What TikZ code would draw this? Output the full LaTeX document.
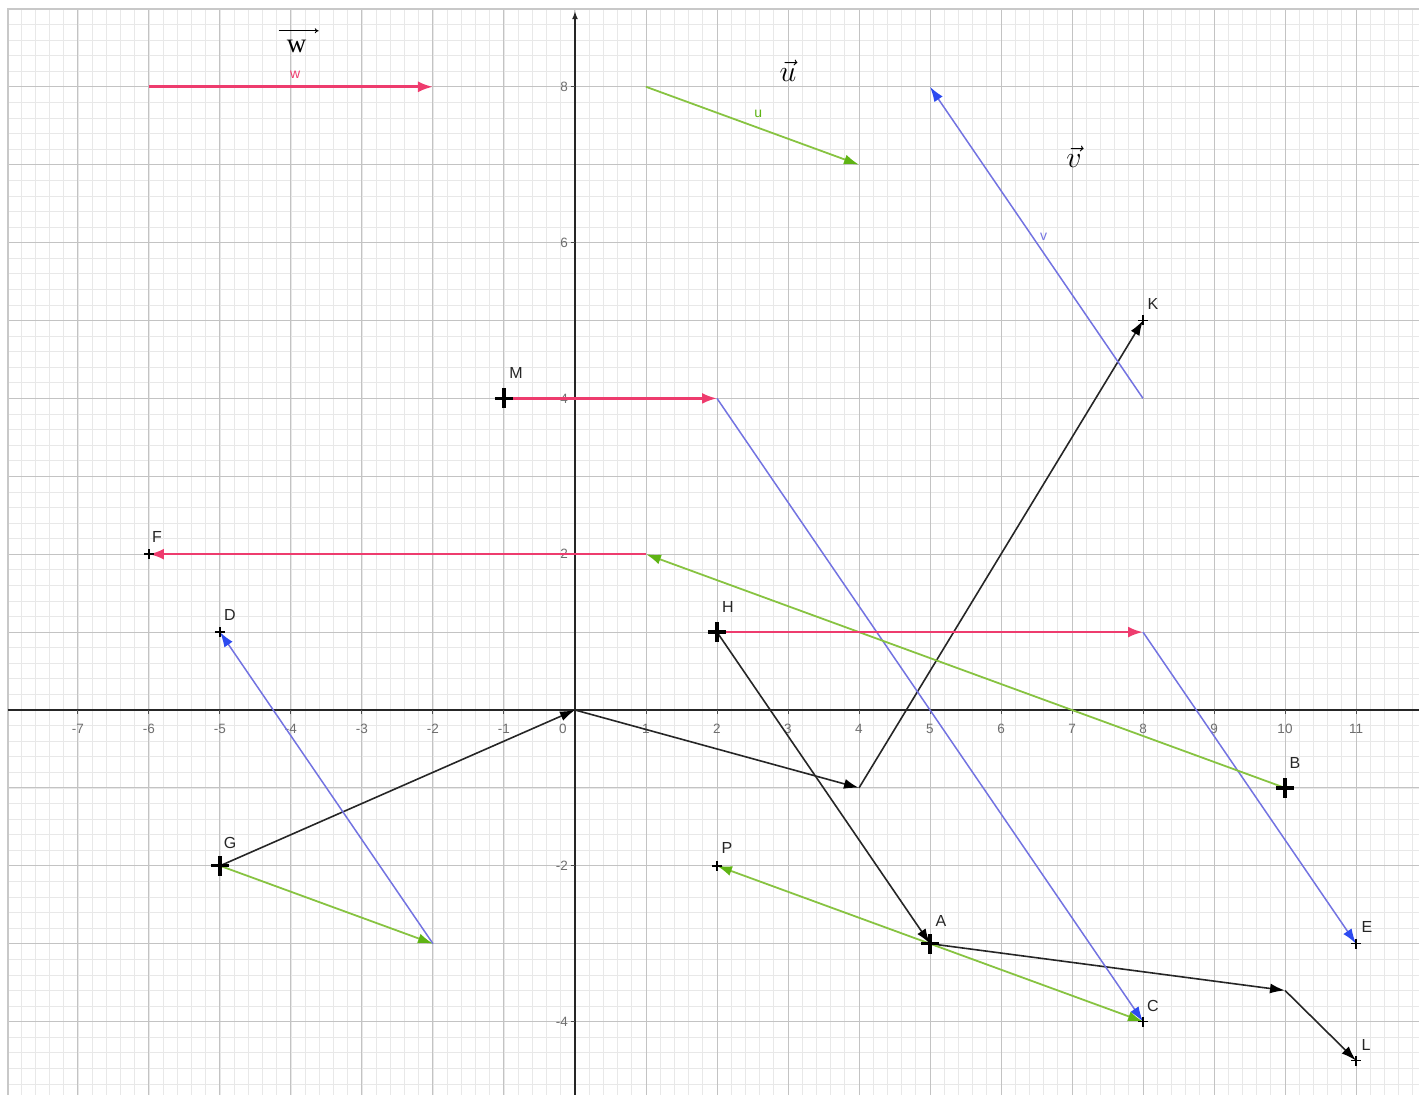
\RequirePackage{fix-cm}
\documentclass[tikz,border=0pt]{standalone}
\usepackage{fontspec}
\newfontfamily\ggb{Liberation Sans}
\newfontfamily\tnr{Liberation Serif}
\usetikzlibrary{arrows.meta}
\definecolor{pinkv}{RGB}{238,60,110}
\definecolor{greenv}{RGB}{135,195,65}
\definecolor{greentip}{RGB}{95,180,20}
\definecolor{bluev}{RGB}{115,115,225}
\definecolor{bluetip}{RGB}{45,75,240}
\definecolor{majorgrid}{RGB}{195,195,195}
\definecolor{minorgrid}{RGB}{232,232,232}
\definecolor{ticklab}{RGB}{110,110,110}
\definecolor{framegray}{RGB}{200,200,200}
\begin{document}
\begin{tikzpicture}[x=71pt,y=77.9pt,
 vw/.style={draw=pinkv, line width=2.6pt, -{Latex[length=15pt,width=11pt,color=pinkv]}},
 vu/.style={draw=greenv, line width=1.8pt, -{Latex[length=15pt,width=10pt,color=greentip]}},
 vv/.style={draw=bluev, line width=1.5pt, -{Latex[length=15pt,width=10pt,color=bluetip]}},
 vk/.style={draw=black!85, line width=1.6pt, -{Latex[length=15pt,width=10pt,color=black]}},
 ticklab/.style={font=\ggb\fontsize{13.5}{15}\selectfont, text=ticklab, inner sep=0pt},
 ptlab/.style={font=\ggb\fontsize{16}{18}\selectfont, text=black!85, inner sep=0pt},
 veclab/.style={font=\ggb\fontsize{14}{16}\selectfont, inner sep=0pt},
 biglab/.style={inner sep=0pt, text=black},
 minorline/.style={draw=minorgrid, line width=0.7pt},
 majorline/.style={draw=majorgrid, line width=1pt},
 pics/bigcross/.style={code={\draw[black, line width=3.2pt] (-9pt,0)--(9pt,0) (0,-10pt)--(0,10pt);}},
 pics/smallcross/.style={code={\draw[black, line width=1.5pt] (-5pt,0)--(5pt,0) (0,-5pt)--(0,5pt);}}
]
\useasboundingbox (-575pt,-385pt) rectangle (844pt,710pt);
% grid
\begin{scope}
\clip (-567pt,-385pt) rectangle (844pt,701pt);
\foreach \i in {-41,...,60} {\draw[minorline] (\i*0.2,-5) -- (\i*0.2,9.2);}
\foreach \j in {-25,...,46} {\draw[minorline] (-8.2,\j*0.2) -- (12,\j*0.2);}
\foreach \i in {-8,...,11} {\draw[majorline] (\i,-5) -- (\i,9.2);}
\foreach \j in {-4,...,9} {\draw[majorline] (-8.2,\j) -- (12,\j);}
\end{scope}
% frame
\draw[framegray, line width=1.5pt] (-567pt,-385pt) -- (-567pt,701pt) -- (844pt,701pt);
% axes
\draw[black!85, line width=1.5pt] (-567pt,0) -- (844pt,0);
\draw[black!85, line width=1.5pt, -{Latex[length=8pt,width=6pt]}] (0,-385pt) -- (0,8.97);
\foreach \x in {-7,...,-1,1,2,...,11} {
  \draw[black!70, line width=1pt] (\x,0) -- (\x,-4pt);
  \node[ticklab] (tx\x) at ([yshift=-19pt]\x,0) {\ifnum\x<0 -\the\numexpr-\x\relax\else\x\fi};
}
\node[ticklab] (tx0) at (-12pt,-19pt) {0};
\foreach \y in {-4,-2,2,4,6,8} {
  \draw[black!70, line width=1pt] (0,\y) -- (-4pt,\y);
  \node[ticklab, anchor=east] (ty\y) at ([xshift=-7pt]0,\y) {\ifnum\y<0 -\the\numexpr-\y\relax\else\y\fi};
}
% points
\coordinate (W1) at (-6,8); \coordinate (W2) at (-2,8);
\coordinate (U1) at (1,8); \coordinate (U2) at (4,7);
\coordinate (V1) at (8,4); \coordinate (V2) at (5,8);
\coordinate (M) at (-1,4); \coordinate (M2) at (2,4);
\coordinate (F) at (-6,2); \coordinate (F1) at (1,2);
\coordinate (D) at (-5,1);
\coordinate (G) at (-5,-2); \coordinate (G2) at (-2,-3);
\coordinate (O) at (0,0); \coordinate (Q) at (4,-1); \coordinate (K) at (8,5);
\coordinate (H) at (2,1); \coordinate (H2) at (8,1); \coordinate (E) at (11,-3);
\coordinate (A) at (5,-3); \coordinate (P) at (2,-2); \coordinate (C) at (8,-4);
\coordinate (B) at (10,-1);
\coordinate (R) at (10,-3.6); \coordinate (L) at (11,-4.5);
% black vectors
\draw[vk] (G) -- (O);
\draw[vk] (O) -- (Q);
\draw[vk] (Q) -- (K);
\draw[vk] (H) -- (A);
\draw[vk] (A) -- (R);
\draw[vk] (R) -- (L);
% blue vectors
\draw[vv] (V1) -- (V2);
\draw[vv] (M2) -- (C);
\draw[vv] (G2) -- (D);
\draw[vv] (H2) -- (E);
% green vectors
\draw[vu] (U1) -- (U2);
\draw[vu] (B) -- (F1);
\draw[vu] (G) -- (G2);
\draw[vu] (A) -- (P);
\draw[vu] (A) -- (C);
% pink vectors
\draw[vw] (W1) -- (W2);
\draw[vw] (M) -- (M2);
\draw[vw] (F1) -- (F);
\draw[vw] (H) -- (H2);
% crosses
\foreach \p in {M,H,G,A,B} {\pic at (\p) {bigcross};}
\foreach \p in {F,D,P,E,K,C,L} {\pic at (\p) {smallcross};}
% point labels
\node[ptlab] (lM) at ([shift={(12pt,25pt)}]M) {M};
\node[ptlab] (lH) at ([shift={(11pt,25pt)}]H) {H};
\node[ptlab] (lG) at ([shift={(10pt,23pt)}]G) {G};
\node[ptlab] (lA) at ([shift={(11pt,23pt)}]A) {A};
\node[ptlab] (lB) at ([shift={(10pt,25pt)}]B) {B};
\node[ptlab] (lF) at ([shift={(8pt,17pt)}]F) {F};
\node[ptlab] (lD) at ([shift={(10pt,17pt)}]D) {D};
\node[ptlab] (lP) at ([shift={(10pt,18pt)}]P) {P};
\node[ptlab] (lE) at ([shift={(11pt,17pt)}]E) {E};
\node[ptlab] (lK) at ([shift={(10pt,16pt)}]K) {K};
\node[ptlab] (lC) at ([shift={(10pt,16pt)}]C) {C};
\node[ptlab] (lL) at ([shift={(10pt,16pt)}]L) {L};
% vector name labels
\node[veclab, text=pinkv] (nw) at (-3.94,8.16) {w};
\node[veclab, text=greentip] (nu) at (2.58,7.65) {u};
\node[veclab, text=bluev] (nv) at (6.6,6.07) {v};
% big overlay labels
\node[biglab] (bw) at (-3.92,8.52) {\tnr\fontsize{27}{30}\selectfont w};
\coordinate (bwl) at ([shift={(-18pt,9pt)}]bw.north);
\coordinate (bwr) at ([shift={(22pt,9pt)}]bw.north);
\draw[black, line width=0.9pt, -{To[length=4pt,width=5pt]}] (bwl) -- (bwr);
\node[biglab] (bu) at (3.0,8.2) {\fontsize{30}{34}\selectfont$\vec{u}$};
\node[biglab] (bv) at (7.03,7.1) {\fontsize{30}{34}\selectfont$\vec{v}$};
\end{tikzpicture}
\end{document}
